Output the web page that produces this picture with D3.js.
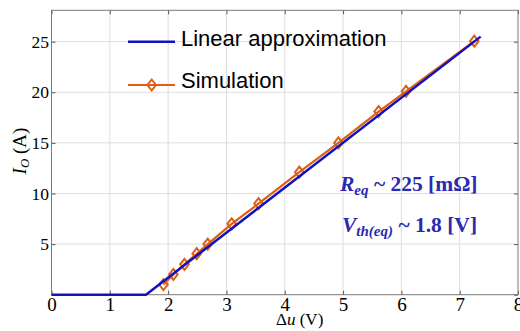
<!DOCTYPE html>
<html>
<head>
<meta charset="utf-8">
<script src="https://cdn.jsdelivr.net/npm/d3@7"></script>
<style>
  body { margin: 0; background: #fff; }
  svg { display: block; }
  .tick-label { font-family: "Liberation Serif", "Times New Roman", serif; fill: #000; }
  .legend-text { font-family: "Liberation Sans", Arial, sans-serif; font-size: 22px; fill: #000; }
  .note { font-family: "Liberation Serif", "Times New Roman", serif; font-size: 21.5px; font-weight: bold; fill: #2a2ab0; }
  .axis-label { font-family: "Liberation Serif", "Times New Roman", serif; fill: #000; }
</style>
</head>
<body>
<script>
// linear approximation (kink at Vth)
const approxX = [0, 1.62, 7.36];
const approxY = [0, 0, 25.5];

// simulation points
const simX = [1.92, 2.09, 2.28, 2.49, 2.68, 3.09, 3.55, 4.25, 4.92, 5.61, 6.08, 7.25];
const simY = [1, 2, 3, 4.05, 5, 7, 9, 12.1, 15, 18.1, 20.1, 25.05];

const xTicks = [0, 1, 2, 3, 4, 5, 6, 7, 8];
const yTicks = [0, 5, 10, 15, 20, 25];
const yTickLabels = ["", "5", "10", "15", "20", "25"];

const width = 520, height = 331;
const margin = {left: 51.5, right: 2, top: 10.3, bottom: 36.3};

const svg = d3.select("body").append("svg")
    .attr("width", width)
    .attr("height", height);

const x = d3.scaleLinear().domain([0, 8]).range([margin.left, width - margin.right]);
const y = d3.scaleLinear().domain([0, 28.1]).range([height - margin.bottom, margin.top]);

const x0 = x.range()[0], x1 = x.range()[1], y0 = y.range()[0], y1 = y.range()[1];

// grid
const grid = svg.append("g").attr("stroke", "#dedede").attr("stroke-width", 1);
grid.selectAll(".gx").data(xTicks.slice(1, -1)).enter().append("line")
    .attr("x1", d => x(d)).attr("x2", d => x(d))
    .attr("y1", y0).attr("y2", y1);
grid.selectAll(".gy").data(yTicks.slice(1)).enter().append("line")
    .attr("x1", x0).attr("x2", x1)
    .attr("y1", d => y(d)).attr("y2", d => y(d));

// axes, ticks inward on all sides
const tk = 4;
const bottomAxis = svg.append("g").attr("transform", "translate(0," + y0 + ")")
    .call(d3.axisBottom(x).tickValues(xTicks).tickSize(-tk).tickPadding(3).tickFormat(d3.format("d")))
    .call(g => g.select(".domain").remove());
svg.append("g").attr("transform", "translate(0," + y1 + ")")
    .call(d3.axisTop(x).tickValues(xTicks).tickSize(-tk).tickFormat(""))
    .call(g => g.select(".domain").remove());
const leftAxis = svg.append("g").attr("transform", "translate(" + x0 + ",0)")
    .call(d3.axisLeft(y).tickValues(yTicks).tickSize(-tk).tickPadding(2.5).tickFormat((d, i) => yTickLabels[i]))
    .call(g => g.select(".domain").remove());
svg.append("g").attr("transform", "translate(" + x1 + ",0)")
    .call(d3.axisRight(y).tickValues(yTicks).tickSize(-tk).tickFormat(""))
    .call(g => g.select(".domain").remove());

svg.selectAll(".tick line").attr("stroke", "#555");
bottomAxis.selectAll(".tick text").attr("class", "tick-label")
    .attr("font-family", null).attr("font-size", "19px");
leftAxis.selectAll(".tick text").attr("class", "tick-label")
    .attr("font-family", null).attr("font-size", "17.5px");

svg.append("rect")
    .attr("x", x0).attr("y", y1)
    .attr("width", x1 - x0).attr("height", y0 - y1)
    .attr("fill", "none").attr("stroke", "#7a7a7a").attr("stroke-width", 1);

// series
const line = d3.line().x(d => x(d[0])).y(d => y(d[1]));
const simData = simX.map((v, i) => [v, simY[i]]);
const approxData = approxX.map((v, i) => [v, approxY[i]]);

const orange = "#dc5f14", blue = "#1212c0";

svg.append("path").datum(simData)
    .attr("d", line).attr("fill", "none")
    .attr("stroke", orange).attr("stroke-width", 2.2);

const diamond = (cx, cy) => "M" + cx + "," + (cy - 5.5) + "L" + (cx + 4.3) + "," + cy +
    "L" + cx + "," + (cy + 5.5) + "L" + (cx - 4.3) + "," + cy + "Z";

svg.append("g").selectAll("path").data(simData).enter().append("path")
    .attr("d", d => diamond(x(d[0]), y(d[1])))
    .attr("fill", "none").attr("stroke", orange).attr("stroke-width", 2);

svg.append("path").datum(approxData)
    .attr("d", line).attr("fill", "none")
    .attr("stroke", blue).attr("stroke-width", 2.5);

// legend
const lg = svg.append("g");
lg.append("line").attr("x1", 128).attr("x2", 175).attr("y1", 41.7).attr("y2", 41.7)
    .attr("stroke", blue).attr("stroke-width", 2.5);
lg.append("text").attr("class", "legend-text").attr("x", 181).attr("y", 45.5).text("Linear approximation");
lg.append("line").attr("x1", 128).attr("x2", 175).attr("y1", 85).attr("y2", 85)
    .attr("stroke", orange).attr("stroke-width", 2.2);
lg.append("path").attr("d", diamond(151.7, 85))
    .attr("fill", "none").attr("stroke", orange).attr("stroke-width", 2);
lg.append("text").attr("class", "legend-text").attr("x", 181).attr("y", 87.5).text("Simulation");

// annotations
const n1 = svg.append("text").attr("class", "note").attr("x", 340).attr("y", 190.5);
n1.append("tspan").attr("font-style", "italic").text("R");
n1.append("tspan").attr("font-style", "italic").attr("font-size", "15px").attr("dy", 4).text("eq");
n1.append("tspan").attr("dy", -4).text(" ~ 225 [m\u03A9]");

const n2 = svg.append("text").attr("class", "note").attr("x", 342).attr("y", 232);
n2.append("tspan").attr("font-style", "italic").text("V");
n2.append("tspan").attr("font-style", "italic").attr("font-size", "15px").attr("dy", 4).text("th(eq)");
n2.append("tspan").attr("dy", -4).text(" ~ 1.8 [V]");

// axis labels
svg.append("text").attr("class", "axis-label").attr("font-size", "17px")
    .attr("x", 276).attr("y", 325)
    .html("\u0394<tspan font-style='italic'>u</tspan> (V)");

const yl = svg.append("text").attr("class", "axis-label").attr("font-size", "19px")
    .attr("transform", "translate(26,151) rotate(-90)")
    .attr("text-anchor", "middle");
yl.append("tspan").attr("font-style", "italic").text("I");
yl.append("tspan").attr("font-style", "italic").attr("font-size", "13px").attr("dy", 3).text("O");
yl.append("tspan").attr("dy", -3).text(" (A)");
</script>
</body>
</html>
